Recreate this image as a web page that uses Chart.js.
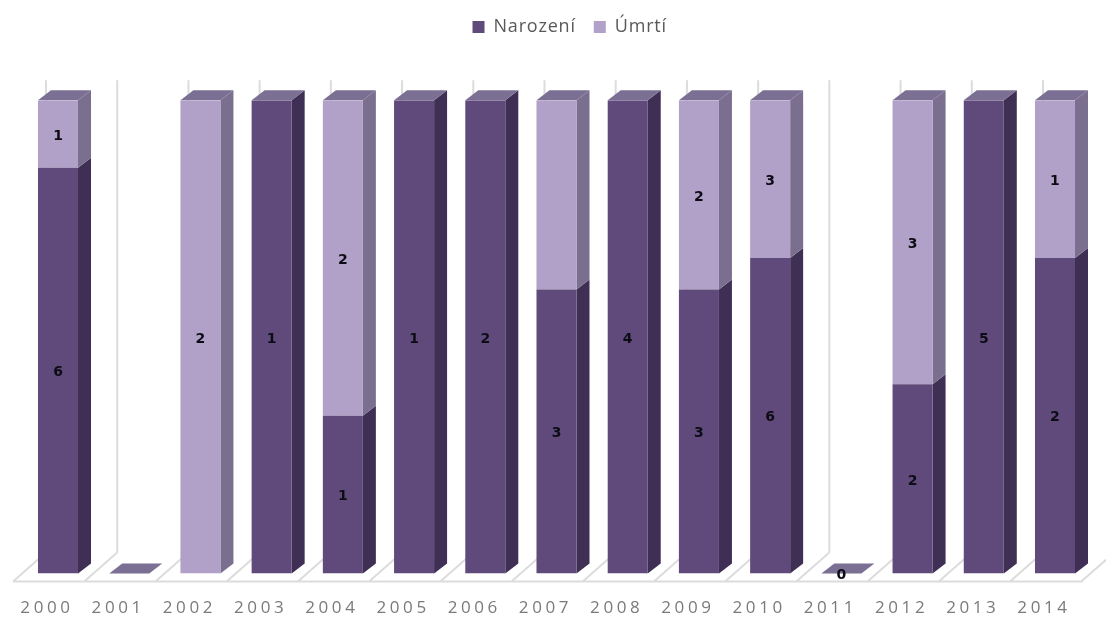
<!DOCTYPE html>
<html><head><meta charset="utf-8">
<style>html,body{margin:0;padding:0;background:#fff}#w{width:1106px;height:619px;position:relative}</style>
<script src="https://cdn.jsdelivr.net/npm/chart.js@4"></script></head>
<body><div id="w"><canvas id="c"></canvas></div>
<script>
const years=['2000','2001','2002','2003','2004','2005','2006','2007','2008','2009','2010','2011','2012','2013','2014'];
const births=[6,0,0,1,1,1,2,3,4,3,6,0,2,5,2];
const deaths=[1,0,2,0,2,0,0,2,0,2,3,0,3,0,1];
const birthLabels=['6',null,null,'1','1','1','2','3','4','3','6','0','2','5','2'];
const deathLabels=['1',null,'2',null,'2',null,null,null,null,'2','3',null,'3',null,'1'];
const seriesNames=['Narození','Úmrtí'];
const share=(a,b)=>a.map((v,i)=>(a[i]+b[i])?v/(a[i]+b[i]):0);

const DX=13,DY=-10;
const FRONT=['#604a7b','#b1a0c7'],SIDE=['#3f2f55','#7a6f8e'],TOP='#7b6f94',GRID='#dcdcdc';
function poly(ctx,pts,fill){ctx.beginPath();pts.forEach((p,i)=>i?ctx.lineTo(p[0],p[1]):ctx.moveTo(p[0],p[1]));ctx.closePath();ctx.fillStyle=fill;ctx.fill();}

const box3d={id:'box3d',
 afterLayout(chart){
  const lg=chart.legend;lg.left+=8;lg.right+=8;
  const x=chart.scales.x;
  if(!x._ls){x._ls=1;const o=x.drawLabels;x.drawLabels=function(a){const c=this.ctx;c.save();c.letterSpacing='3.6px';o.call(this,a);c.restore();};}
 },
 beforeDraw(chart){chart.ctx.letterSpacing='0.8px';},
 beforeDatasetsDraw(chart){
  const ctx=chart.ctx,x=chart.scales.x,y=chart.scales.y;
  const step=x.getPixelForTick(1)-x.getPixelForTick(0);
  const base=y.getPixelForValue(0),top=y.getPixelForValue(1);
  ctx.save();ctx.letterSpacing='0px';ctx.strokeStyle=GRID;ctx.lineWidth=2;
  const fl=base+8,bk=base-21;
  const x0=x.getPixelForTick(0)-45;
  ctx.beginPath();ctx.moveTo(x0,fl);ctx.lineTo(x0+step*15+2,fl);
  for(let i=0;i<=15;i++){const a=x0+step*i;
    ctx.moveTo(a,fl);ctx.lineTo(a+33,bk);
    if(i<15){ctx.moveTo(a+33,bk);ctx.lineTo(a+33,top-20);}
  }
  ctx.stroke();
  // sides and top faces
  years.forEach((_,i)=>{
   let hasAny=false;
   [0,1].forEach(d=>{
    const el=chart.getDatasetMeta(d).data[i];
    const w=el.width,r=el.x+w/2;
    const t=el.y,b=el.base;
    if(b-t>0.5){hasAny=true;poly(ctx,[[r,b],[r+DX,b+DY],[r+DX,t+DY],[r,t]],SIDE[d]);}
   });
   const el=chart.getDatasetMeta(0).data[i];
   const l=el.x-el.width/2,r=el.x+el.width/2,t=hasAny?top:base;
   poly(ctx,[[l,t],[r,t],[r+DX,t+DY],[l+DX,t+DY]],TOP);
  });
  ctx.restore();
 },
 afterDatasetsDraw(chart){
  const ctx=chart.ctx;
  ctx.save();ctx.letterSpacing='0px';
  ctx.font='600 14px "DejaVu Sans"';ctx.fillStyle='#0c0c14';ctx.textAlign='center';ctx.textBaseline='middle';
  [birthLabels,deathLabels].forEach((labs,d)=>{
   const m=chart.getDatasetMeta(d);
   labs.forEach((t,i)=>{ if(t===null)return;
    const el=m.data[i];
    ctx.fillText(t,el.x,(el.y+el.base)/2+2);
   });
  });
  ctx.restore();
 }
};

new Chart(document.getElementById('c'),{
 type:'bar',
 data:{labels:years,datasets:[
  {label:seriesNames[0],data:share(births,deaths),backgroundColor:FRONT[0],borderWidth:0,stack:'s'},
  {label:seriesNames[1],data:share(deaths,births),backgroundColor:FRONT[1],borderWidth:0,stack:'s'}
 ]},
 options:{
  responsive:true,maintainAspectRatio:false,animation:false,
  layout:{padding:{left:22.4,right:15.4,top:0,bottom:-15}},
  datasets:{bar:{categoryPercentage:1,barPercentage:0.562}},
  plugins:{
   tooltip:{enabled:false},
   legend:{display:true,position:'top',labels:{boxWidth:12,boxHeight:12,padding:18,color:'#595959',font:{family:'"Open Sans"',size:18}}},
   title:{display:true,text:' ',weight:500,color:'rgba(0,0,0,0)',font:{size:1},padding:{top:0,bottom:53}}
  },
  scales:{
   x:{stacked:true,grid:{display:false},border:{display:false},
      ticks:{color:'#7a7a7a',font:{family:'"Open Sans"',size:17},padding:16,labelOffset:-11,maxRotation:0,autoSkip:false}},
   y:{stacked:true,display:false,min:0,max:1}
  }
 },
 plugins:[box3d]
});
</script></body></html>
